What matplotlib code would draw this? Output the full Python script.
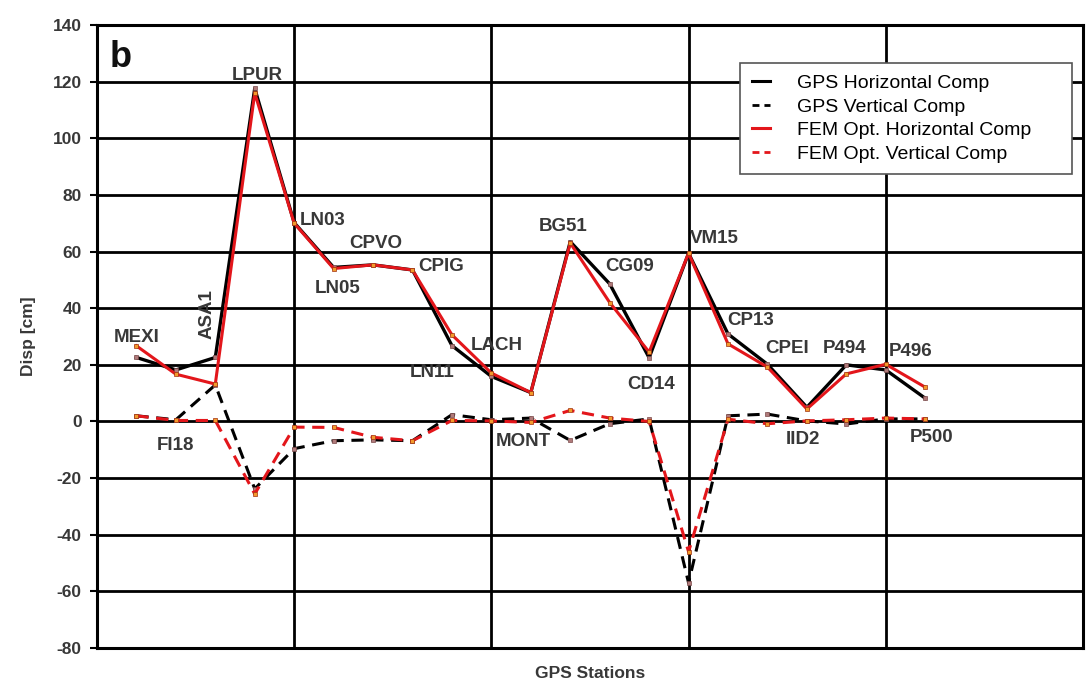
import matplotlib
matplotlib.use('Agg')
from matplotlib import pyplot as plt
from matplotlib.lines import Line2D

plt.rcParams['axes.unicode_minus'] = False

# station order along the profile
stations = ['MEXI', 'FI18', 'ASA1', 'LPUR', 'LN03', 'LN05', 'CPVO', 'CPIG', 'LN11', 'LACH',
            'MONT', 'BG51', 'CG09', 'CD14', 'VM15', 'CP13', 'CPEI', 'IID2', 'P494', 'P496', 'P500']

# displacements in cm
gps_horiz = [22.6, 18.2, 22.6, 117.6, 70.2, 54.4, 55.3, 53.5, 26.8, 15.9,
             10.2, 63.5, 48.6, 22.5, 59.4, 30.9, 20.2, 5.0, 20.0, 18.2, 8.2]
gps_vert = [2.0, 0.6, 12.9, -23.8, -9.6, -6.8, -6.5, -6.8, 2.4, 0.6,
            1.2, -6.7, -0.8, 0.9, -57.0, 2.0, 2.6, 0.2, -0.9, 0.9, 0.9]
fem_horiz = [26.7, 16.7, 13.2, 116.0, 70.0, 54.0, 55.3, 53.5, 30.6, 17.1,
             10.2, 63.0, 42.0, 24.5, 59.4, 27.4, 19.2, 4.4, 16.8, 20.2, 12.1]
fem_vert = [2.0, 0.35, 0.35, -25.6, -2.0, -2.1, -5.6, -6.8, 0.35, 0.2,
            -0.35, 3.9, 1.2, 0.0, -46.0, 0.8, -0.8, 0.2, 0.6, 1.2, 0.9]

# where each station name is written (x, y in data units, rotation)
label_pos = {
    'MEXI': (1.0, 29.5, 0), 'FI18': (2.0, -8.6, 0), 'ASA1': (2.8, 37.8, 90),
    'LPUR': (4.06, 122.3, 0), 'LN03': (5.72, 71.1, 0), 'LN05': (6.1, 47.0, 0),
    'CPVO': (7.07, 62.9, 0), 'CPIG': (8.73, 54.7, 0), 'LN11': (8.5, 17.4, 0),
    'LACH': (10.14, 27.0, 0), 'MONT': (10.82, -7.2, 0), 'BG51': (11.83, 68.8, 0),
    'CG09': (13.5, 54.7, 0), 'CD14': (14.05, 12.9, 0), 'VM15': (15.65, 64.7, 0),
    'CP13': (16.58, 35.6, 0), 'CPEI': (17.5, 25.6, 0), 'P494': (18.95, 25.6, 0),
    'P496': (20.62, 24.6, 0), 'IID2': (17.9, -6.5, 0), 'P500': (21.15, -5.6, 0),
}

bold_font = ['Liberation Sans', 'DejaVu Sans']
label_color = '#383838'

x = list(range(1, len(stations) + 1))

fig = plt.figure(figsize=(10.86, 6.98), dpi=100)
ax = fig.add_axes([0.0893, 0.0716, 0.9079, 0.8926])

dash = (0, (4, 2.5))
ax.plot(x, gps_horiz, color='black', lw=2.4, marker='s', ms=2.5,
        mfc='#b07a7a', mec='#7a4a4a', mew=0.5, zorder=3)
ax.plot(x, gps_vert, color='black', lw=2.2, ls=dash, marker='s', ms=2.5,
        mfc='#b07a7a', mec='#7a4a4a', mew=0.5, zorder=3)
ax.plot(x, fem_horiz, color='#e3161b', lw=2.2, marker='s', ms=2.5,
        mfc='#f39a2c', mec='#a03010', mew=0.5, zorder=4)
ax.plot(x, fem_vert, color='#e3161b', lw=2.2, ls=dash, marker='s', ms=2.5,
        mfc='#f39a2c', mec='#a03010', mew=0.5, zorder=4)

for name in stations:
    lx, ly, rot = label_pos[name]
    ax.text(lx, ly, name, ha='center', va='center', rotation=rot,
            fontsize=13.5, fontweight='bold', color=label_color, family=bold_font, zorder=5)

ax.text(0.6, 128.5, 'b', ha='center', va='center', fontsize=26, fontweight='bold',
        color='#111111', family=bold_font)

ax.set_xlim(0, 25)
ax.set_ylim(-80, 140)
ax.set_yticks(range(-80, 141, 20))
ax.set_xticks([5, 10, 15, 20])
ax.tick_params(axis='x', length=0, labelbottom=False)
ax.tick_params(axis='y', length=5, width=1.5, direction='out', pad=6)
for lab in ax.get_yticklabels():
    lab.set_fontfamily(bold_font)
    lab.set_fontweight('bold')
    lab.set_fontsize(12.5)
    lab.set_color(label_color)

ax.grid(True, color='black', lw=2.0, zorder=1)
ax.set_axisbelow(True)
for sp in ax.spines.values():
    sp.set_linewidth(2.2)

ax.set_ylabel('Disp [cm]', fontsize=12.5, fontweight='bold', family=bold_font,
              color=label_color, labelpad=12)
ax.set_xlabel('GPS Stations', fontsize=12.5, fontweight='bold', family=bold_font,
              color=label_color, labelpad=13)

handles = [
    Line2D([], [], color='black', lw=2.2),
    Line2D([], [], color='black', lw=2.0, ls=(0, (2.5, 1.8))),
    Line2D([], [], color='#e3161b', lw=2.2),
    Line2D([], [], color='#e3161b', lw=2.0, ls=(0, (2.5, 1.8))),
]
names = ['GPS Horizontal Comp', 'GPS Vertical Comp', 'FEM Opt. Horizontal Comp', 'FEM Opt. Vertical Comp']
# legend box stretched to a fixed width in the upper right
leg = ax.legend(handles, names, loc='upper left', bbox_to_anchor=(0.652, 0.739, 0.3366, 0.2),
                mode='expand', fancybox=False, framealpha=1, edgecolor='#555555',
                handlelength=0.95, handletextpad=1.4, labelspacing=0.3, borderpad=0.6,
                borderaxespad=0, prop={'family': bold_font, 'size': 14})
leg.get_frame().set_linewidth(1.2)
leg.set_zorder(6)

fig.savefig('out.png', dpi=100)
